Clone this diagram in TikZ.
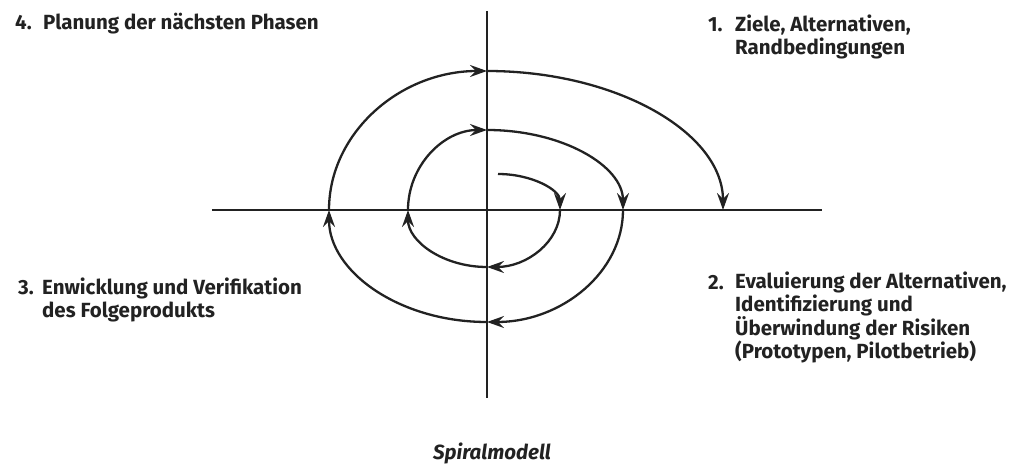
\documentclass[tikz,border=0pt]{standalone}
\usepackage{fontspec}
\setmainfont{Fira Sans}
\usetikzlibrary{arrows.meta}
\definecolor{inkgray}{RGB}{34,34,34}

\begin{document}
\begin{tikzpicture}[x=1pt,y=1pt,
phase/.style={inner sep=0pt,align=left,font=\fontsize{20.5}{23}\selectfont\bfseries,text=inkgray},
turn/.style={draw=inkgray,line width=2.3pt,-{Stealth[length=17pt,width=12pt,inset=6pt]}},
axisline/.style={draw=inkgray,line width=1.5pt}]
\useasboundingbox (-487,-255) rectangle (530,210);
\coordinate (vtop) at (0,199);
\coordinate (vbot) at (0,-188);
\coordinate (hleft) at (-275,0);
\coordinate (hright) at (335,0);
\draw[axisline] (vtop)--(vbot);
\draw[axisline] (hleft)--(hright);
\draw[turn] (11,36) arc[start angle=90,end angle=0,x radius=62,y radius=36];
\draw[turn] (73,0) arc[start angle=0,end angle=-90,x radius=73,y radius=57];
\draw[turn] (0,-57) arc[start angle=270,end angle=180,x radius=79,y radius=57];
\draw[turn] (-79,0) arc[start angle=180,end angle=90,x radius=79,y radius=80];
\draw[turn] (0,80) arc[start angle=90,end angle=0,x radius=136,y radius=80];
\draw[turn] (136,0) arc[start angle=0,end angle=-90,x radius=136,y radius=112];
\draw[turn] (0,-112) arc[start angle=270,end angle=180,x radius=158,y radius=112];
\draw[turn] (-158,0) arc[start angle=180,end angle=90,x radius=158,y radius=139];
\draw[turn] (0,139) arc[start angle=90,end angle=0,x radius=236,y radius=139];
\node[phase,anchor=base west] (n1) at (221,178) {1.};
\node[phase,anchor=base west] (t1) at (248,155) {Ziele, Alternativen,\\Randbedingungen};
\node[phase,anchor=base west] (n2) at (221,-80) {2.};
\node[phase,anchor=base west] (t2) at (248,-149) {Evaluierung der Alternativen,\\Identifizierung und\\Überwindung der Risiken\\(Prototypen, Pilotbetrieb)};
\node[phase,anchor=base west] (n3) at (-469,-85) {3.};
\node[phase,anchor=base west] (t3) at (-445,-108) {Enwicklung und Verifikation\\des Folgeprodukts};
\node[phase,anchor=base west] (n4) at (-472,180) {4.};
\node[phase,anchor=base west] (t4) at (-444,180) {Planung der nächsten Phasen};
\node[phase,anchor=base,font=\fontsize{20.5}{23}\selectfont\bfseries\itshape] (title) at (5,-250) {Spiralmodell};
\end{tikzpicture}
\end{document}
